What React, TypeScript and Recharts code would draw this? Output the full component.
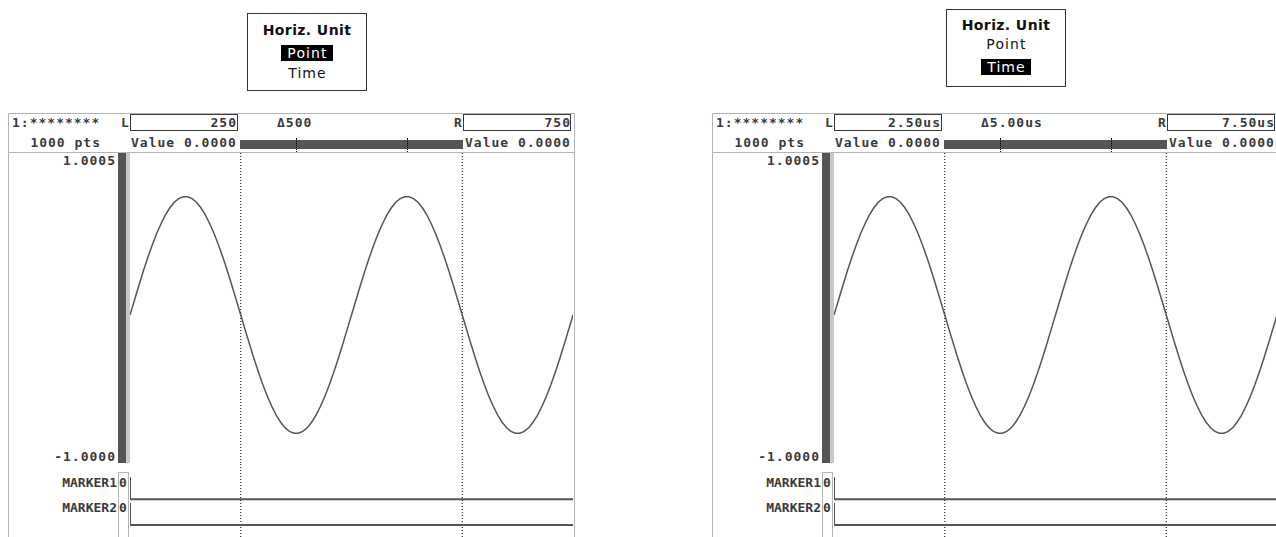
import React from 'react';
import { LineChart, Line, XAxis, YAxis, ReferenceLine } from 'recharts';

// ---- data ----
const TOTAL_POINTS = 1000;
const SAMPLE_STEP = 10; // points between samples
const waveValues = [
  -0.045, 0.05, 0.145, 0.237, 0.324, 0.405, 0.479, 0.544, 0.601, 0.647,
  0.683, 0.706, 0.718, 0.718, 0.706, 0.683, 0.647, 0.601, 0.544, 0.479,
  0.405, 0.324, 0.237, 0.145, 0.05, -0.045, -0.141, -0.235, -0.327, -0.414,
  -0.495, -0.569, -0.634, -0.691, -0.737, -0.773, -0.796, -0.808, -0.808, -0.796,
  -0.773, -0.737, -0.691, -0.634, -0.569, -0.495, -0.414, -0.327, -0.235, -0.141,
  -0.045, 0.05, 0.145, 0.237, 0.324, 0.405, 0.479, 0.544, 0.601, 0.647,
  0.683, 0.706, 0.718, 0.718, 0.706, 0.683, 0.647, 0.601, 0.544, 0.479,
  0.405, 0.324, 0.237, 0.145, 0.05, -0.045, -0.141, -0.235, -0.327, -0.414,
  -0.495, -0.569, -0.634, -0.691, -0.737, -0.773, -0.796, -0.808, -0.808, -0.796,
  -0.773, -0.737, -0.691, -0.634, -0.569, -0.495, -0.414, -0.327, -0.235, -0.141,
  -0.045,
];
const markerPoints = [0, 0, 1000];
const marker1Levels = [1, 0, 0];
const marker2Levels = [1, 0, 0];
const cursorL = 250;
const cursorR = 750;
const yTicks = [-1.0, 1.0005];
const yTickLabels = ['-1.0000', '1.0005'];
const markerNames = ['MARKER1', 'MARKER2'];
const markerValues = ['0', '0'];
const popupTitle = 'Horiz. Unit';
const popupOptions = ['Point', 'Time'];
const leftPanelTexts = { l: '250', delta: '500', r: '750', selected: 'Point' };
const rightPanelTexts = { l: '2.50us', delta: '5.00us', r: '7.50us', selected: 'Time' };
const channelLabel = '1:********';
const pointsLabel = '1000 pts';
const valueLabel = 'Value 0.0000';

const waveData = waveValues.map((v, i) => ({ pt: i * SAMPLE_STEP, v }));
const marker1Data = markerPoints.map((pt, i) => ({ pt, level: marker1Levels[i] }));
const marker2Data = markerPoints.map((pt, i) => ({ pt, level: marker2Levels[i] }));

const TRACE = '#555555';
const FRAME = '#b4b4b4';
const TEXT = '#3a3a3a';
const MONO = '"DejaVu Sans Mono", "Liberation Mono", monospace';
const SANS = '"DejaVu Sans", "Liberation Sans", sans-serif';

const monoStyle: React.CSSProperties = {
  position: 'absolute',
  fontFamily: MONO,
  fontSize: 13,
  fontWeight: 'bold',
  letterSpacing: 1,
  color: TEXT,
  whiteSpace: 'pre',
  lineHeight: '16px',
  height: 16,
};

function T({ x, cy, w, align, children, style }: any) {
  const s: React.CSSProperties = { ...monoStyle, top: cy - 8, ...(style || {}) };
  if (align === 'right') {
    return <div style={{ ...s, left: x - w, width: w, textAlign: 'right' }}>{children}</div>;
  }
  return <div style={{ ...s, left: x }}>{children}</div>;
}

function Box({ x, y, w, h, color, border }: any) {
  return (
    <div
      style={{
        position: 'absolute',
        left: x,
        top: y,
        width: w,
        height: h,
        background: color || 'transparent',
        border: border || 'none',
        boxSizing: 'border-box',
      }}
    />
  );
}

const renderYTick = (props: any) => {
  const { y, payload } = props;
  const idx = yTicks.indexOf(payload.value);
  const isTop = payload.value > 0;
  return (
    <text
      x={108}
      y={y + (isTop ? 7 : -7)}
      dy={4.5}
      textAnchor="end"
      fontFamily={MONO}
      fontSize={13}
      fontWeight="bold"
      letterSpacing={1}
      fill={TEXT}
    >
      {yTickLabels[idx]}
    </text>
  );
};

function Popup({ x, y, selected, offsets }: any) {
  const text: React.CSSProperties = {
    position: 'absolute',
    left: 0,
    width: 118,
    textAlign: 'center',
    fontFamily: SANS,
    fontSize: 14,
    letterSpacing: 1.1,
    lineHeight: '16px',
    color: '#111',
  };
  return (
    <div
      style={{
        position: 'absolute',
        left: x,
        top: y,
        width: 120,
        height: 78,
        border: '1px solid #333',
        boxSizing: 'border-box',
        background: '#fff',
      }}
    >
      <div style={{ ...text, top: offsets[0] - 8, fontWeight: 'bold', letterSpacing: 0.4 }}>{popupTitle}</div>
      {popupOptions.map((o, i) => (
        <div key={o} style={{ ...text, top: offsets[i + 1] - 8 }}>
          <span
            style={
              o === selected
                ? { background: '#000', color: '#fff', padding: '0 5px 0 6px', display: 'inline-block', lineHeight: '16px' }
                : { padding: '0 5px 0 6px', display: 'inline-block' }
            }
          >
            {o}
          </span>
        </div>
      ))}
    </div>
  );
}

function Panel({ ox, texts, popupY, popupX, popupOffsets }: any) {
  const barX0 = 240;
  const barX1 = 463;
  const tickFrac = (p: number) => ox + barX0 + ((barX1 - barX0) * p) / TOTAL_POINTS;
  return (
    <>
      <Popup x={popupX} y={popupY} selected={texts.selected} offsets={popupOffsets} />
      {/* frame */}
      <Box x={ox + 8} y={113} w={567} h={1} color={FRAME} />
      <Box x={ox + 8} y={113} w={1} h={424} color={FRAME} />
      <Box x={ox + 574} y={113} w={1} h={424} color={FRAME} />
      <Box x={ox + 8} y={152} w={567} h={1} color={FRAME} />
      {/* header row 1 */}
      <T x={ox + 12} cy={123}>{channelLabel}</T>
      <T x={ox + 121} cy={123}>L</T>
      <Box x={ox + 130} y={114} w={108} h={17} border="1px solid #3a3a3a" />
      <T x={ox + 237} w={100} align="right" cy={123}>{texts.l}</T>
      <T x={ox + 277} cy={123}>{'\u0394' + texts.delta}</T>
      <T x={ox + 454} cy={123}>R</T>
      <Box x={ox + 463} y={114} w={108} h={17} border="1px solid #3a3a3a" />
      <T x={ox + 571} w={100} align="right" cy={123}>{texts.r}</T>
      {/* header row 2 */}
      <T x={ox + 101} w={90} align="right" cy={143}>{pointsLabel}</T>
      <T x={ox + 131} cy={143}>{valueLabel}</T>
      <Box x={ox + barX0} y={140} w={barX1 - barX0} h={9} color="#555" />
      {[cursorL, cursorR].map((c) => (
        <div
          key={c}
          style={{
            position: 'absolute',
            left: Math.round(tickFrac(c)),
            top: 138,
            width: 0,
            height: 14,
            borderLeft: '1px dotted #000',
          }}
        />
      ))}
      <T x={ox + 465} cy={143}>{valueLabel}</T>
      {/* vertical scale bar */}
      <Box x={ox + 118} y={153} w={8} h={310} color="#555" />
      <Box x={ox + 126} y={153} w={4} h={310} color="#c8c8c8" />
      {/* wave chart */}
      <div style={{ position: 'absolute', left: ox + 8, top: 153 }}>
        <LineChart width={565} height={310} data={waveData} margin={{ top: 0, right: 0, bottom: 0, left: 0 }}>
          <XAxis dataKey="pt" type="number" domain={[0, TOTAL_POINTS]} hide allowDataOverflow />
          <YAxis
            type="number"
            domain={[-1.0, 1.0005]}
            ticks={yTicks}
            width={122}
            axisLine={false}
            tickLine={false}
            tick={renderYTick}
            allowDataOverflow
            interval={0}
          />
          <ReferenceLine x={cursorL} stroke="#000" strokeDasharray="1 2" />
          <ReferenceLine x={cursorR} stroke="#000" strokeDasharray="1 2" />
          <Line
            type="linear"
            dataKey="v"
            stroke={TRACE}
            strokeWidth={1.5}
            dot={false}
            isAnimationActive={false}
          />
        </LineChart>
      </div>
      {/* marker section */}
      <Box x={ox + 118} y={472} w={1} h={65} color={FRAME} />
      <Box x={ox + 128} y={472} w={1} h={65} color={FRAME} />
      <Box x={ox + 118} y={472} w={11} h={1} color={FRAME} />
      {markerNames.map((n, i) => (
        <React.Fragment key={n}>
          <T x={ox + 117} w={90} align="right" cy={483 + i * 25} style={{ letterSpacing: 0 }}>
            {n}
          </T>
          <T x={ox + 119} cy={483 + i * 25}>{markerValues[i]}</T>
        </React.Fragment>
      ))}
      <div style={{ position: 'absolute', left: ox + 8, top: 463 }}>
        <LineChart width={565} height={74} margin={{ top: 0, right: 0, bottom: 0, left: 122 }}>
          <XAxis dataKey="pt" type="number" domain={[0, TOTAL_POINTS]} hide allowDataOverflow />
          <YAxis yAxisId="m1" type="number" domain={[-1.69, 1.628]} hide allowDataOverflow />
          <YAxis yAxisId="m2" type="number" domain={[-0.545, 2.818]} hide allowDataOverflow />
          <ReferenceLine yAxisId="m1" x={cursorL} stroke="#000" strokeDasharray="1 2" />
          <ReferenceLine yAxisId="m1" x={cursorR} stroke="#000" strokeDasharray="1 2" />
          <Line
            yAxisId="m1"
            data={marker1Data}
            dataKey="level"
            type="linear"
            stroke={TRACE}
            strokeWidth={2}
            dot={false}
            isAnimationActive={false}
          />
          <Line
            yAxisId="m2"
            data={marker2Data}
            dataKey="level"
            type="linear"
            stroke={TRACE}
            strokeWidth={2}
            dot={false}
            isAnimationActive={false}
          />
        </LineChart>
      </div>
    </>
  );
}

export default function App() {
  return (
    <div
      style={{
        position: 'absolute',
        left: 0,
        top: 0,
        width: 1276,
        height: 537,
        overflow: 'hidden',
        background: '#fff',
      }}
    >
      <Panel ox={0} texts={leftPanelTexts} popupX={247} popupY={13} popupOffsets={[16, 39, 59]} />
      <Panel ox={704} texts={rightPanelTexts} popupX={946} popupY={9} popupOffsets={[15, 34, 57]} />
    </div>
  );
}
